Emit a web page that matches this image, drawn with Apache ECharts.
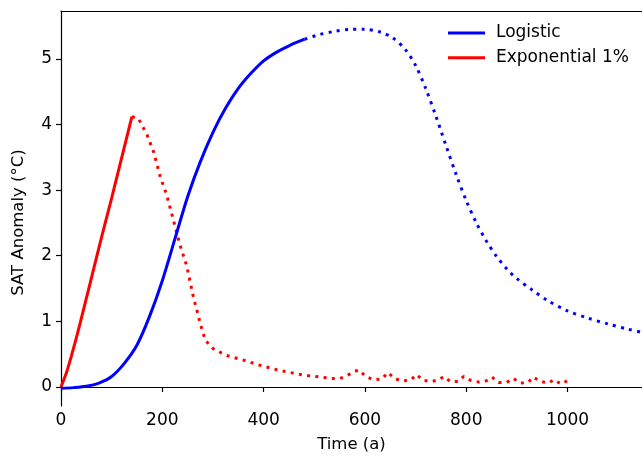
<!DOCTYPE html>
<html>
<head>
<meta charset="utf-8">
<script src="https://cdn.jsdelivr.net/npm/echarts@6/dist/echarts.min.js"></script>
<style>html,body{margin:0;padding:0;background:#fff;}#c{width:642px;height:458px;}</style>
</head>
<body>
<div id="c"></div>
<script>
// ---- data ----
const xTicks = [0, 200, 400, 600, 800, 1000];
const yTicks = [0, 1, 2, 3, 4, 5];

const logisticSolidYears = [0, 25, 50, 75, 100, 125, 150, 175, 200, 225, 250, 275, 300, 325, 350, 375, 400, 425, 450, 481];
const logisticSolidValues = [-0.02, -0.01, 0.01, 0.06, 0.16, 0.36, 0.64, 1.08, 1.62, 2.26, 2.90, 3.43, 3.88, 4.25, 4.55, 4.78, 4.97, 5.10, 5.20, 5.30];

const logisticDotYears = [481, 510, 540, 570, 600, 630, 655, 680, 700, 720, 740, 760, 780, 800, 820, 840, 860, 880, 900, 930, 960, 1000, 1040, 1080, 1120, 1160];
const logisticDotValues = [5.30, 5.37, 5.42, 5.45, 5.45, 5.41, 5.32, 5.14, 4.90, 4.55, 4.13, 3.68, 3.24, 2.84, 2.50, 2.22, 1.99, 1.80, 1.65, 1.48, 1.32, 1.16, 1.05, 0.96, 0.88, 0.81];

const expSolidYears = [0, 10, 20, 30, 40, 60, 80, 100, 120, 140];
const expSolidValues = [0, 0.2, 0.46, 0.74, 1.04, 1.66, 2.28, 2.88, 3.50, 4.12];

const expDotYears = [140, 153, 170, 183, 196, 209, 222, 235, 248, 262, 271, 275, 285, 301, 327, 360, 393, 432, 480, 534, 551, 564, 577, 588, 602, 617, 633, 646, 658, 674, 691, 702, 715, 732, 746, 756, 768, 784, 795, 809, 825, 840, 851, 864, 880, 893, 906, 922, 932, 947, 962, 973, 987, 1001];
const expDotValues = [4.12, 4.09, 3.84, 3.58, 3.20, 2.92, 2.54, 2.16, 1.85, 1.35, 1.09, 0.96, 0.71, 0.58, 0.48, 0.41, 0.33, 0.25, 0.18, 0.13, 0.13, 0.17, 0.23, 0.26, 0.16, 0.11, 0.12, 0.22, 0.13, 0.09, 0.11, 0.19, 0.10, 0.085, 0.11, 0.16, 0.085, 0.085, 0.16, 0.10, 0.075, 0.095, 0.15, 0.07, 0.07, 0.13, 0.06, 0.065, 0.15, 0.085, 0.06, 0.11, 0.045, 0.10];

const zip = (xs, ys) => xs.map((x, i) => [x, ys[i]]);

const BLUE = '#0000ff', RED = '#ff0000';
const FONT = 'DejaVu Sans';

const chart = echarts.init(document.getElementById('c'), null, {renderer: 'canvas'});
const axisLine = {show: true, lineStyle: {color: '#000', width: 1.2}};
chart.setOption({
  animation: false,
  backgroundColor: '#fff',
  grid: {left: 61, right: 0, top: 11, bottom: 51.3, containLabel: false},
  legend: {
    orient: 'vertical',
    left: 448,
    top: 23,
    padding: 0,
    icon: 'rect',
    itemWidth: 37,
    itemHeight: 3,
    itemGap: 4.7,
    data: ['Logistic', 'Exponential 1%'],
    textStyle: {fontFamily: FONT, fontSize: 17, color: '#000', lineHeight: 20, padding: [0, 0, 0, 6]}
  },
  xAxis: [{
    type: 'value',
    min: 0,
    max: 1147,
    name: 'Time (a)',
    nameLocation: 'middle',
    nameGap: 30,
    nameTextStyle: {fontFamily: FONT, fontSize: 16.5, color: '#000'},
    axisLine: axisLine,
    axisTick: {show: true, length: 5, lineStyle: {color: '#000', width: 1.2}, customValues: xTicks},
    axisLabel: {fontFamily: FONT, fontSize: 17, color: '#000', margin: 6, customValues: xTicks, formatter: v => String(v)},
    splitLine: {show: false}
  }, {
    type: 'value',
    position: 'top',
    min: 0,
    max: 1147,
    axisLine: axisLine,
    axisTick: {show: false},
    axisLabel: {show: false},
    splitLine: {show: false}
  }],
  yAxis: {
    type: 'value',
    min: -0.29,
    max: 5.73,
    name: 'SAT Anomaly (°C)',
    nameLocation: 'middle',
    nameGap: 34,
    nameTextStyle: {fontFamily: FONT, fontSize: 16.5, color: '#000', padding: [0, 28, 0, 0]},
    axisLine: axisLine,
    axisTick: {show: true, length: 5, lineStyle: {color: '#000', width: 1.2}, customValues: yTicks},
    axisLabel: {fontFamily: FONT, fontSize: 17, color: '#000', margin: 9, customValues: yTicks, formatter: v => String(v)},
    splitLine: {show: false}
  },
  series: [
    {name: 'Logistic', type: 'line', data: zip(logisticSolidYears, logisticSolidValues), showSymbol: false, symbol: 'none', smooth: 0.3,
     lineStyle: {color: BLUE, width: 3}, itemStyle: {color: BLUE}, z: 3},
    {name: 'Logistic', type: 'line', data: zip(logisticDotYears, logisticDotValues), showSymbol: false, symbol: 'none', smooth: 0.3,
     lineStyle: {color: BLUE, width: 3, type: [3, 5.3], cap: 'butt'}, itemStyle: {color: BLUE}, z: 3},
    {name: 'Exponential 1%', type: 'line', data: zip(expSolidYears, expSolidValues), showSymbol: false, symbol: 'none', smooth: 0.2,
     lineStyle: {color: RED, width: 3}, itemStyle: {color: RED}, z: 2},
    {name: 'Exponential 1%', type: 'line', data: zip(expDotYears, expDotValues), showSymbol: false, symbol: 'none',
     lineStyle: {color: RED, width: 3, type: [3, 5.3], cap: 'butt'}, itemStyle: {color: RED}, z: 2}
  ]
});
</script>
</body>
</html>
